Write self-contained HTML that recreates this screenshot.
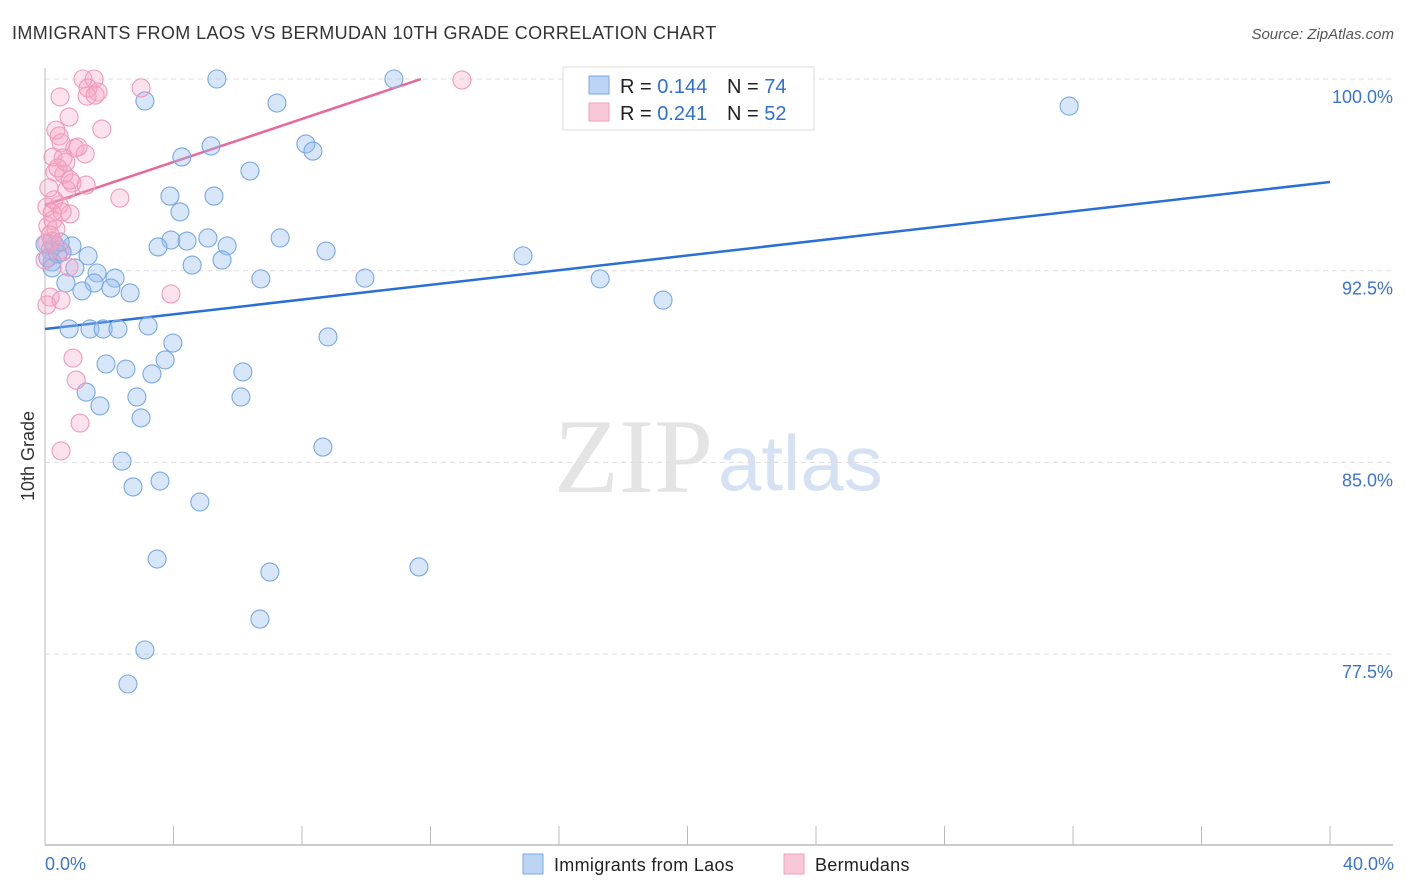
<!DOCTYPE html>
<html><head><meta charset="utf-8"><style>
body{margin:0;background:#fff;font-family:"Liberation Sans",sans-serif;}
svg{display:block}
</style></head><body>
<svg id="chart" width="1406" height="892" xmlns="http://www.w3.org/2000/svg">
<text x="12" y="39" font-size="18" fill="#333" letter-spacing="0.38">IMMIGRANTS FROM LAOS VS BERMUDAN 10TH GRADE CORRELATION CHART</text>
<text x="1394" y="39" font-size="15" fill="#555" font-style="italic" text-anchor="end">Source: ZipAtlas.com</text>
<text x="554" y="492" font-size="106" font-family="Liberation Serif,serif" fill="#e4e4e4">ZIP</text>
<text x="718" y="490" font-size="78" fill="#d5e2f4">atlas</text>
<g id="grid"></g><g id="axes"></g><g id="trend"></g><g id="pts"></g>
<text transform="translate(34,456) rotate(-90)" font-size="18" fill="#333" text-anchor="middle">10th Grade</text>
<g>
<rect x="563" y="67" width="251" height="63" fill="#fff" stroke="#ddd"/>
<rect x="589" y="76" width="20" height="18" fill="#bcd5f5" stroke="#7aa7e6"/>
<rect x="589" y="103" width="20" height="18" fill="#f9c8d8" stroke="#ef9fbb"/>
<text x="620" y="93" font-size="20" fill="#222">R = <tspan fill="#2e6fd3">0.144</tspan><tspan x="727">N = </tspan><tspan fill="#2e6fd3">74</tspan></text>
<text x="620" y="120" font-size="20" fill="#222">R = <tspan fill="#2e6fd3">0.241</tspan><tspan x="727">N = </tspan><tspan fill="#2e6fd3">52</tspan></text>
</g>
<text x="45" y="870" font-size="18" fill="#3b73d0">0.0%</text>
<text x="1394" y="870" font-size="18" fill="#3b73d0" text-anchor="end">40.0%</text>
<rect x="523" y="854" width="20" height="20" fill="#bcd5f5" stroke="#7aa7e6"/>
<text x="554" y="871" font-size="18" fill="#222" letter-spacing="0.3">Immigrants from Laos</text>
<rect x="784" y="854" width="20" height="20" fill="#f9c8d8" stroke="#ef9fbb"/>
<text x="815" y="871" font-size="18" fill="#222" letter-spacing="0.3">Bermudans</text>
</svg>
<script>
const yTicks=[100,92.5,85,77.5];
const yTickLabels=["100.0%","92.5%","85.0%","77.5%"];
const xTicks=[0,4,8,12,16,20,24,28,32,36,40];
const laosX=[5.35,10.86,3.11,7.22,31.88,5.17,8.12,8.34,4.26,6.38,3.89,5.26,4.20,7.32,5.07,3.92,4.42,3.52,5.67,8.75,0.31,0.84,0.53,1.34,14.88,0.22,4.58,5.51,0.93,1.62,2.18,6.72,9.96,17.28,0.65,1.53,2.05,1.15,2.65,19.24,3.21,0.75,1.40,1.81,2.27,8.81,3.98,3.74,1.90,2.52,3.33,6.16,1.28,2.86,6.10,1.71,2.99,8.65,2.40,3.58,2.74,4.82,3.49,7.00,11.64,6.69,3.11,2.58,0.16,0.09,0.40,0,0.47,0.22];
const laosY=[100,100,99.14,99.06,98.94,97.38,97.46,97.18,96.95,96.40,95.42,95.42,94.80,93.78,93.78,93.70,93.66,93.43,93.47,93.27,93.51,93.47,93.23,93.08,93.08,92.84,92.72,92.92,92.61,92.41,92.21,92.18,92.21,92.18,92.02,92.02,91.82,91.71,91.63,91.35,90.34,90.22,90.22,90.22,90.22,89.91,89.67,89.01,88.85,88.65,88.46,88.54,87.75,87.56,87.56,87.21,86.74,85.60,85.05,84.27,84.04,83.45,81.22,80.71,80.91,78.87,77.66,76.33,93.31,93.00,93.15,93.54,93.62,92.61];
const bermX=[1.18,1.53,1.34,1.65,2.99,12.98,0.47,1.31,0.75,1.77,0.34,0.44,0.50,0.93,1.25,0.25,0.56,0.31,0.59,1.28,0.84,0.68,2.33,0.06,0.44,0.78,0.22,0.09,0.34,0.06,0.22,0.47,0.75,3.92,0.16,0.50,0.06,0.87,0.97,1.09,0.50,0.25,0.16,0.53,1.03,1.56,0.65,0,0.40,0.28,0.78,0.12];
const bermY=[100,100,99.65,99.49,99.65,99.96,99.30,99.33,98.51,98.04,98.00,97.77,97.50,97.30,97.07,96.95,96.91,96.36,96.28,95.85,95.93,95.66,95.34,94.99,95.07,94.72,94.76,94.25,94.13,93.58,93.66,93.31,92.64,91.59,91.47,91.35,91.16,89.08,88.22,86.54,85.45,94.48,93.90,94.80,97.34,99.37,96.75,92.92,96.52,95.27,96.05,95.74];
const laosTrend=[90.22,0.1438,40];
const bermTrend=[95.07,0.421,11.7];
const NS="http://www.w3.org/2000/svg";
const xs=v=>45+v*(1285/40);
const ys=v=>79+(100-v)*(191.7/7.5);
function mk(t,a,p){const e=document.createElementNS(NS,t);for(const k in a)e.setAttribute(k,a[k]);document.getElementById(p).appendChild(e);return e;}
yTicks.forEach((t,i)=>{
 const l=mk('line',{x1:45,x2:1393,y1:ys(t),y2:ys(t),stroke:'#ddd','stroke-dasharray':'5,4'},'grid');
 
 
 const tx=mk('text',{x:1393,y:ys(t)+24,'font-size':18,fill:'#3b73d0','text-anchor':'end'},'grid');
 tx.textContent=yTickLabels[i];
 
 
});
const ya=mk('line',{x1:45,x2:45,y1:68,y2:845,stroke:'#bbb'},'axes');


const xa=mk('line',{x1:45,x2:1393,y1:845,y2:845,stroke:'#bbb','stroke-width':1.5},'axes');


xTicks.forEach(t=>{
 const l=mk('line',{x1:xs(t),x2:xs(t),y1:826,y2:845,stroke:'#bbb'},'axes');
 
 
});
function pts(X,Y,fill,stroke,name){X.forEach((x,i)=>{
 const c=mk('circle',{cx:xs(x),cy:ys(Y[i]),r:9,fill:fill,stroke:stroke,'stroke-width':1.1},'pts');
 
 
});}
pts(laosX,laosY,'rgba(150,190,240,0.38)','#78a8e6','laos-point');
pts(bermX,bermY,'rgba(245,165,195,0.32)','#f09ab9','bermudan-point');
function trend(T,color,name){
 const l=mk('line',{x1:xs(0),y1:ys(T[0]),x2:xs(T[2]),y2:ys(T[0]+T[1]*T[2]),stroke:color,'stroke-width':2.5},'trend');
 
 
}
trend(laosTrend,'#2a6fd6','laos-trend-line');
trend(bermTrend,'#e8689a','bermudan-trend-line');
</script>
</body></html>
